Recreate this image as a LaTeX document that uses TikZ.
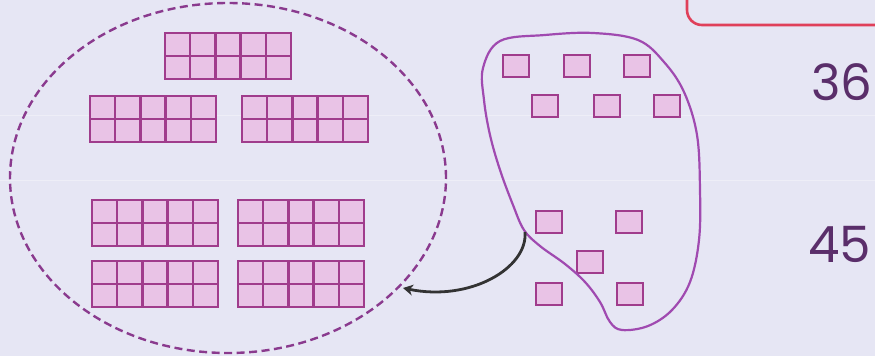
\documentclass[tikz,border=0pt]{standalone}
\usepackage{fontspec}
\newfontfamily\numfont{Poppins}
\usetikzlibrary{arrows.meta}
\definecolor{bg}{HTML}{E6E6F4}
\definecolor{cellfill}{HTML}{E9C3E6}
\definecolor{cellline}{HTML}{A03C8C}
\definecolor{ring}{HTML}{8A3A8E}
\definecolor{blobline}{HTML}{A04AB0}
\definecolor{numcol}{HTML}{5A2E6A}
\definecolor{redline}{HTML}{E0405A}
\definecolor{arrowcol}{HTML}{333333}
\tikzset{
  cellbox/.style={fill=cellfill, draw=cellline, line width=2.4pt},
  cellrule/.style={draw=cellline, line width=2.4pt},
  unitbox/.style={fill=cellfill, draw=cellline, line width=2pt},
  ringline/.style={draw=ring, line width=2.4pt, dash pattern=on 8pt off 4.5pt},
  blobstyle/.style={draw=blobline, line width=2.2pt},
  numtext/.style={text=numcol, font=\numfont\fontsize{50}{50}\selectfont, inner sep=0pt},
  faint/.style={draw=white, opacity=0.35, line width=1pt}
}
\begin{document}
\begin{tikzpicture}[x=1pt,y=-1pt]
\fill[bg] (0,0) rectangle (875,356);
\useasboundingbox (0,0) rectangle (875,356);
\clip (0,0) rectangle (875,356);
% faint ruled lines of the paper
\draw[faint] (0,115) -- (875,115);
\draw[faint] (0,180) -- (875,180);
% red box at top right
\draw[redline, line width=2.6pt, rounded corners=15pt] (687,-40) rectangle (900,25);
% ten-frames
\foreach \x/\y in {165/33, 90/96, 242/96, 92/200, 238/200, 92/261, 238/261}{
  \path[cellbox] (\x,\y) rectangle (\x+126,\y+46);
  \foreach \i in {1,...,4}{
    \draw[cellrule] (\x+\i*25.2,\y) -- (\x+\i*25.2,\y+46);
  }
  \draw[cellrule] (\x,\y+23) -- (\x+126,\y+23);
}
% dashed ring
\draw[ringline] (228,178) ellipse [x radius=218pt, y radius=175pt];
\coordinate (ringpt) at (403,288);
% loose units
\foreach \x/\y in {503/55, 564/55, 624/55, 532/95, 594/95, 654/95, 536/211, 616/211, 577/251, 536/283, 617/283}{
  \path[unitbox] (\x,\y) rectangle (\x+26,\y+22);
}
% blob
\draw[blobstyle] plot[smooth cycle, tension=0.6] coordinates {
  (500,41) (545,35) (593,33) (638,40) (664,62) (684,92) (697,135) (700,190) (699,240)
  (690,282) (672,310) (648,326) (622,330) (610,322) (600,302) (585,282)
  (565,264) (540,246) (524,230) (513,205) (500,170) (490,135) (484,100)
  (483,68)};
\coordinate (blobpt) at (525,232);
% arrow
\draw[arrowcol, line width=2.8pt, -{Stealth[length=10pt,width=11pt]}] (blobpt) .. controls (528,268) and (470,302) .. (ringpt);
% numbers
\node[numtext, anchor=base west] (n36) at (811,100) {36};
\node[numtext, anchor=base west] (n45) at (808,262) {45};
\end{tikzpicture}
\end{document}
